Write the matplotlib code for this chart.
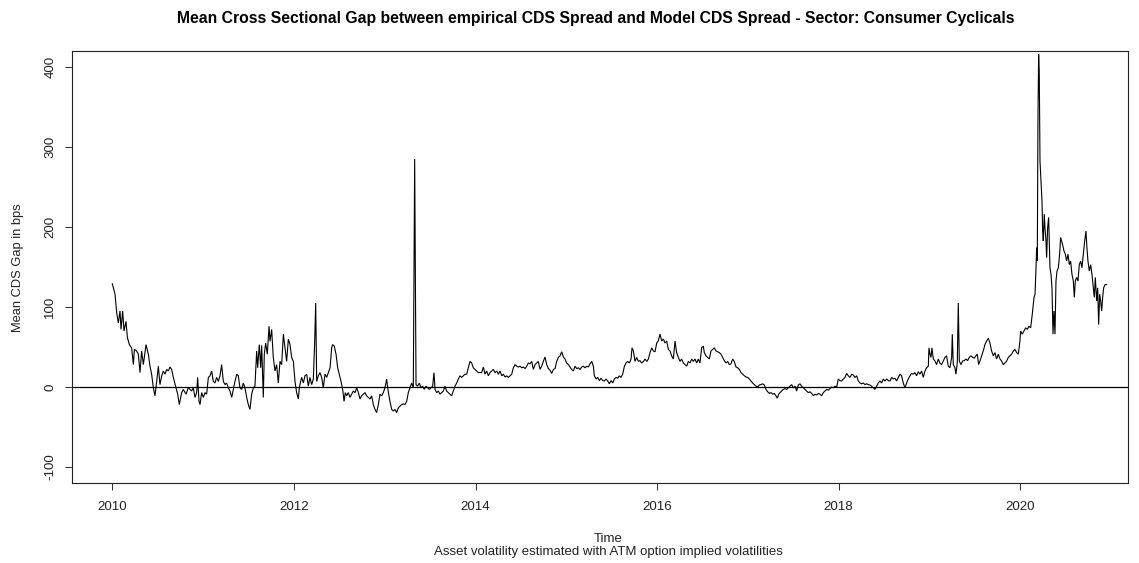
import matplotlib
matplotlib.use("Agg")
import matplotlib.pyplot as plt
import numpy as np

# ---------------- data (decimal year, gap in bps) ----------------
dates_2010 = [2010.000, 2010.030, 2010.048, 2010.066, 2010.085, 2010.096, 2010.114, 2010.129, 2010.151, 2010.166,
              2010.188, 2010.213, 2010.232, 2010.243, 2010.268, 2010.287, 2010.305, 2010.323, 2010.342, 2010.371,
              2010.397, 2010.415, 2010.433, 2010.452, 2010.470, 2010.489, 2010.507, 2010.525, 2010.544, 2010.562,
              2010.580, 2010.599, 2010.617, 2010.635, 2010.654, 2010.672, 2010.702, 2010.720, 2010.738, 2010.764,
              2010.782, 2010.812, 2010.837, 2010.856, 2010.874, 2010.892, 2010.911, 2010.929, 2010.940, 2010.955,
              2010.966, 2010.984]
gap_2010 = [129, 116, 93, 80, 95, 72, 95, 70, 82, 62,
            53, 49, 28, 47, 45, 41, 18, 45, 28, 53,
            41, 26, 16, -1, -11, 7, 26, 3, 14, 20,
            16, 22, 20, 25, 22, 12, -1, -9, -22, -7,
            -3, -9, -1, -3, -5, -1, -13, -7, 12, -18,
            -22, -7]

dates_2011 = [2011.003, 2011.021, 2011.039, 2011.058, 2011.076, 2011.094, 2011.113, 2011.131, 2011.149, 2011.168,
              2011.186, 2011.204, 2011.223, 2011.241, 2011.259, 2011.278, 2011.296, 2011.315, 2011.333, 2011.351,
              2011.370, 2011.388, 2011.406, 2011.425, 2011.443, 2011.461, 2011.480, 2011.498, 2011.516, 2011.535,
              2011.553, 2011.571, 2011.590, 2011.601, 2011.619, 2011.634, 2011.645, 2011.663, 2011.674, 2011.689,
              2011.707, 2011.726, 2011.737, 2011.755, 2011.773, 2011.792, 2011.810, 2011.828, 2011.847, 2011.865,
              2011.884, 2011.902, 2011.920, 2011.939, 2011.957, 2011.975, 2011.994]
gap_2011 = [-13, -7, -9, 12, 14, 20, 7, 5, 12, 7,
            14, 28, 7, 3, 5, -1, -5, -13, -3, 7,
            16, 14, -1, -3, 5, -1, -13, -22, -28, -9,
            -1, 1, 45, 24, 53, 24, 52, -13, 41, 55,
            41, 76, 57, 72, 37, 20, 28, 5, 32, 28,
            66, 49, 32, 60, 53, 37, 32]

dates_2012 = [2012.012, 2012.030, 2012.049, 2012.060, 2012.074, 2012.085, 2012.104, 2012.122, 2012.141, 2012.159,
              2012.177, 2012.196, 2012.214, 2012.229, 2012.240, 2012.251, 2012.269, 2012.287, 2012.306, 2012.324,
              2012.342, 2012.361, 2012.379, 2012.398, 2012.416, 2012.427, 2012.445, 2012.464, 2012.482, 2012.500,
              2012.519, 2012.537, 2012.552, 2012.566, 2012.581, 2012.599, 2012.618, 2012.636, 2012.654, 2012.673,
              2012.691, 2012.710, 2012.728, 2012.746, 2012.765, 2012.783, 2012.801, 2012.820, 2012.838, 2012.856,
              2012.875, 2012.893, 2012.911, 2012.930, 2012.948, 2012.967, 2012.985, 2013.003, 2013.022, 2013.033,
              2013.044, 2013.058, 2013.077, 2013.095, 2013.113, 2013.132, 2013.150, 2013.168, 2013.187, 2013.205,
              2013.223, 2013.242, 2013.260, 2013.279, 2013.297, 2013.315, 2013.330, 2013.345, 2013.363, 2013.381,
              2013.400, 2013.418, 2013.436, 2013.455, 2013.473, 2013.492, 2013.510, 2013.528, 2013.543, 2013.554,
              2013.572, 2013.591, 2013.609, 2013.627, 2013.646, 2013.664, 2013.682, 2013.701, 2013.719, 2013.737,
              2013.756, 2013.774, 2013.793, 2013.811, 2013.829, 2013.848, 2013.866, 2013.884, 2013.903, 2013.921,
              2013.939, 2013.958, 2013.976, 2013.994, 2014.013, 2014.031]
gap_2012 = [7, -7, -15, -1, 7, 12, 5, 14, 16, 1,
            12, 3, 10, 57, 105, 7, 14, 18, 12, -1,
            16, 12, 18, 24, 49, 53, 51, 41, 24, 16,
            7, -3, -18, -7, -11, -7, -13, -9, -5, -7,
            -1, -7, -15, -11, -9, -7, -11, -13, -15, -11,
            -22, -28, -32, -22, -9, -11, -7, -1, 10, -1,
            -9, -18, -28, -30, -28, -32, -26, -24, -22, -21,
            -22, -18, -7, -1, 5, -1, 285, 3, 1, 5,
            -1, 1, -3, 1, -1, -3, -1, 1, 18, -3,
            -7, -5, -9, -7, -5, 1, -5, -7, -9, -11,
            -5, 1, 5, 10, 14, 12, 14, 16, 16, 24,
            32, 30, 24, 22, 20, 18]

dates_2014 = [2014.068, 2014.087, 2014.105, 2014.123, 2014.142, 2014.160, 2014.178, 2014.197, 2014.215, 2014.234,
              2014.252, 2014.270, 2014.289, 2014.307, 2014.325, 2014.344, 2014.362, 2014.380, 2014.399, 2014.417,
              2014.435, 2014.454, 2014.472, 2014.491, 2014.509, 2014.527, 2014.546, 2014.564, 2014.582, 2014.601,
              2014.619, 2014.637, 2014.656, 2014.674, 2014.692, 2014.711, 2014.729, 2014.747, 2014.766, 2014.784,
              2014.803, 2014.821, 2014.839, 2014.858, 2014.876, 2014.894, 2014.913, 2014.931, 2014.949, 2014.968,
              2014.986, 2015.004, 2015.023, 2015.041, 2015.059, 2015.078, 2015.096, 2015.115, 2015.133, 2015.151,
              2015.170, 2015.188, 2015.206, 2015.225, 2015.243, 2015.261, 2015.280, 2015.298,
              2015.309, 2015.328, 2015.346, 2015.364, 2015.383, 2015.401, 2015.419, 2015.438, 2015.456, 2015.474,
              2015.493, 2015.511, 2015.529, 2015.548, 2015.566, 2015.584, 2015.603, 2015.621, 2015.640, 2015.658,
              2015.676, 2015.695, 2015.713, 2015.724, 2015.739, 2015.757, 2015.775, 2015.794, 2015.812, 2015.830,
              2015.849, 2015.867, 2015.886, 2015.904, 2015.922, 2015.941, 2015.959, 2015.977, 2015.996, 2016.014,
              2016.032, 2016.051, 2016.069, 2016.087, 2016.106, 2016.124]
gap_2014 = [18, 25, 16, 20, 14, 18, 20, 22, 18, 20,
            16, 20, 14, 16, 12.5, 14, 12, 14, 16, 24,
            28, 26, 25, 26, 24, 25, 23, 26, 30, 29,
            32, 22, 28, 30, 32, 22, 26, 32, 37.5, 28,
            23, 21, 17, 22, 23, 32, 37, 39, 44, 37.5,
            35, 30, 28, 25, 22, 20, 26, 23, 24, 22,
            25, 26, 24, 26, 25, 29, 32, 26,
            14, 10, 12, 8, 11, 8, 7.5, 10, 7.5, 4,
            8, 5, 10, 12, 11, 14, 12, 16, 26, 30,
            32, 30, 35, 49, 45, 32, 37, 32, 33, 30,
            32, 35, 32, 35, 43, 49, 45, 44, 55, 58,
            66, 57.5, 60, 55, 57.5, 47]

dates_2016 = [2016.142, 2016.160, 2016.179, 2016.197, 2016.215, 2016.234, 2016.252, 2016.270, 2016.289, 2016.307,
              2016.326, 2016.344, 2016.362, 2016.381, 2016.399, 2016.417, 2016.436, 2016.454, 2016.472, 2016.491,
              2016.509, 2016.520, 2016.538, 2016.557, 2016.575, 2016.594, 2016.612, 2016.630, 2016.649, 2016.667,
              2016.685, 2016.704, 2016.722, 2016.740, 2016.759, 2016.777, 2016.795, 2016.814, 2016.832, 2016.850,
              2016.869, 2016.887, 2016.906, 2016.924, 2016.942, 2016.961, 2016.979, 2016.997, 2017.016, 2017.034,
              2017.052, 2017.071, 2017.089, 2017.107, 2017.126, 2017.144, 2017.163, 2017.181, 2017.199, 2017.218,
              2017.236, 2017.254, 2017.273, 2017.291, 2017.309, 2017.324, 2017.339, 2017.353, 2017.372, 2017.390,
              2017.408, 2017.427, 2017.445, 2017.464, 2017.482, 2017.500, 2017.519, 2017.537, 2017.555, 2017.574,
              2017.592, 2017.610, 2017.629, 2017.647, 2017.665, 2017.684, 2017.702, 2017.721, 2017.739, 2017.757,
              2017.776, 2017.794, 2017.812, 2017.831, 2017.849, 2017.867, 2017.886, 2017.904, 2017.922, 2017.941,
              2017.959, 2017.978, 2017.996, 2018.014, 2018.033, 2018.051, 2018.069, 2018.088, 2018.106, 2018.124,
              2018.143, 2018.161, 2018.179, 2018.198, 2018.216]
gap_2016 = [45, 39, 35, 57.5, 43, 37, 32, 35, 30, 28,
            26, 32, 30, 35, 32, 35, 30, 35, 30, 49,
            51, 43, 39, 37, 35, 45, 47, 49, 45, 44,
            43, 41, 37, 33, 30, 32, 28, 29, 35, 32,
            25, 24, 22, 18, 16, 14, 12.5, 12, 10, 7.5,
            5, 3, 1, 0, 2.5, 3, 4, 2.5, -3, -6,
            -8, -7, -9, -8, -11, -14, -9, -7, -5, -3,
            -2, -3, -1, 1, 3, -1, 1, -5, 2.5, 4,
            1, -1, -3, -5, -7, -6, -8, -11, -9, -10,
            -8, -9, -11, -7, -5, -3, -4, -2, 0, -1,
            1, 0, 10, 8, 7.5, 10, 12, 17, 14, 12,
            16, 15, 12, 14, 7.5]

dates_2018 = [2018.234, 2018.252, 2018.271, 2018.289, 2018.307, 2018.326, 2018.344, 2018.362, 2018.381, 2018.399,
              2018.418, 2018.436, 2018.454, 2018.473, 2018.491, 2018.509, 2018.528, 2018.546, 2018.564, 2018.583,
              2018.601, 2018.619, 2018.638, 2018.656, 2018.675, 2018.693, 2018.711, 2018.730, 2018.748, 2018.766,
              2018.785, 2018.803, 2018.821, 2018.840, 2018.858, 2018.876, 2018.895, 2018.913, 2018.931, 2018.950,
              2018.968, 2018.987, 2018.994, 2019.005, 2019.016, 2019.027, 2019.042, 2019.060, 2019.078, 2019.097,
              2019.115, 2019.133, 2019.152, 2019.170, 2019.188, 2019.207, 2019.225, 2019.244, 2019.251, 2019.262,
              2019.280, 2019.291, 2019.306, 2019.317, 2019.328, 2019.346, 2019.365, 2019.383, 2019.401, 2019.420,
              2019.438, 2019.456, 2019.475, 2019.493, 2019.511, 2019.526, 2019.541, 2019.556, 2019.574, 2019.592,
              2019.611, 2019.629, 2019.647, 2019.658]
gap_2018 = [5, 4, 5, 3, 4, 3, 2.5, 1, -1, -3,
            1, 5, 7.5, 5, 10, 7.5, 10, 8, 7.5, 12,
            10, 11, 7.5, 12, 16, 14, 5, -1, 5, 10,
            14, 17, 16, 18, 14, 19, 16, 20, 12, 20,
            24, 26, 49, 41, 37, 49, 35, 32.5, 28, 35,
            30, 28, 32.5, 37, 39, 26, 24, 37, 66, 28,
            24, 16, 30, 105, 32.5, 28, 32.5, 33, 35, 33,
            37, 39, 37, 36, 39, 41, 28, 32.5, 39, 45,
            53, 57.5, 61, 57.5]

dates_2019 = [2019.666, 2019.684, 2019.703, 2019.721, 2019.739, 2019.758, 2019.776, 2019.794, 2019.813, 2019.831,
              2019.850, 2019.868, 2019.886, 2019.905, 2019.923, 2019.941, 2019.960, 2019.978, 2019.996, 2020.004,
              2020.022, 2020.040, 2020.059, 2020.077, 2020.095, 2020.114, 2020.132, 2020.151, 2020.162, 2020.173,
              2020.180, 2020.187, 2020.195, 2020.202, 2020.209, 2020.217, 2020.228, 2020.239, 2020.246, 2020.253,
              2020.264, 2020.272, 2020.283, 2020.290, 2020.301, 2020.312, 2020.319, 2020.327, 2020.338, 2020.349,
              2020.360, 2020.371, 2020.382, 2020.393, 2020.404, 2020.419, 2020.433, 2020.444, 2020.455, 2020.466,
              2020.481, 2020.496, 2020.510, 2020.525, 2020.540, 2020.554, 2020.569, 2020.584, 2020.595, 2020.606,
              2020.620, 2020.635, 2020.650, 2020.665, 2020.679, 2020.694, 2020.709, 2020.723, 2020.734, 2020.745,
              2020.760, 2020.775, 2020.789, 2020.804, 2020.815, 2020.826, 2020.841, 2020.852, 2020.863, 2020.874,
              2020.885, 2020.896, 2020.907, 2020.918, 2020.933, 2020.951]
gap_2019 = [55, 45, 39, 43, 35, 41, 35, 32.5, 28, 30,
            32.5, 37, 39, 41, 45, 47, 43, 41, 57.5, 70,
            66, 70, 74, 72, 76, 74, 91, 112, 116, 149,
            174, 157.5, 341, 416, 391, 282, 257.5, 232.5, 195, 182.5,
            216, 199, 182.5, 161.7, 199, 212, 182.5, 149, 141, 124,
            66, 95, 66, 132.5, 145, 149, 166, 187, 182.5, 178,
            170, 166, 157.5, 166, 153, 157.5, 141, 132.5, 112, 132.5,
            137, 132.5, 153, 157.5, 149, 166, 182.5, 195, 174, 157.5,
            145, 153, 141, 124, 112, 137, 107.5, 124, 78, 116,
            107.5, 95, 112, 124, 128, 128]

x_ticks = [2010, 2012, 2014, 2016, 2018, 2020]
y_ticks = [-100, 0, 100, 200, 300, 400]

title = ("Mean Cross Sectional Gap between empirical CDS Spread and Model CDS Spread "
         "- Sector: Consumer Cyclicals")
x_label = "Time"
sub_label = "Asset volatility estimated with ATM option implied volatilities"
y_label = "Mean CDS Gap in bps"

# ---------------- assemble ----------------
date_parts = [dates_2010, dates_2011, dates_2012, dates_2014, dates_2016, dates_2018, dates_2019]
gap_parts = [gap_2010, gap_2011, gap_2012, gap_2014, gap_2016, gap_2018, gap_2019]
t = np.concatenate([np.asarray(d, float) for d in date_parts])
g = np.concatenate([np.asarray(v, float) for v in gap_parts])

# ---------------- figure ----------------
plt.rcParams['font.family'] = ['Liberation Sans', 'DejaVu Sans']
W, H = 1139, 563
fig = plt.figure(figsize=(W / 100, H / 100), dpi=100)
L, R, T, B = 72, 1128, 51, 483
ax = fig.add_axes([L / W, 1 - B / H, (R - L) / W, (B - T) / H])

ax.plot(t, g, color='black', lw=0.8, solid_joinstyle='miter')
ax.axhline(0, color='black', lw=0.9)

px_per_year = 90.8
x0_px = 112.3
ax.set_xlim(2010 + (L - x0_px) / px_per_year, 2010 + (R - x0_px) / px_per_year)
ax.set_ylim(-120, 420)

ax.set_xticks(x_ticks)
ax.set_yticks(y_ticks)
ax.set_xticklabels([str(v) for v in x_ticks])
ax.set_yticklabels([str(v) for v in y_ticks], rotation=90, va='center')
ax.tick_params(axis='both', direction='out', length=5.2, width=0.75, color='#333333',
               labelsize=9.6, labelcolor='#222222')
ax.tick_params(axis='x', pad=8)
ax.tick_params(axis='y', pad=6)
for s in ax.spines.values():
    s.set_linewidth(0.8)
    s.set_color('#222222')

fig.text(596 / W, 1 - 18 / H, title, ha='center', va='center', fontsize=11.35,
         fontweight='bold', color='black')
fig.text(608 / W, 1 - 539 / H, x_label, ha='center', va='center', fontsize=9.5, color='#222222')
fig.text(608 / W, 1 - 552 / H, sub_label, ha='center', va='center', fontsize=9.5, color='#222222')
fig.text(18 / W, 1 - 268 / H, y_label, ha='center', va='center', rotation=90,
         fontsize=9.3, color='#222222')

fig.savefig('out.png', dpi=100)
